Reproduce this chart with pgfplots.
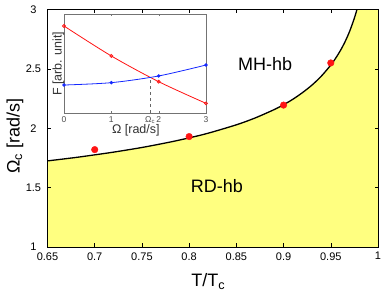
\documentclass[border=0pt]{standalone}
\usepackage{fontspec}
\setmainfont{Liberation Sans}
\usepackage{pgfplots}
\pgfplotsset{compat=1.18}
\usetikzlibrary{calc}
\definecolor{fillyel}{RGB}{255,255,128}
\definecolor{myred}{RGB}{255,20,20}
\definecolor{myblue}{RGB}{20,40,255}
\begin{document}
\begin{tikzpicture}
\begin{axis}[name=main, scale only axis, width=330.5pt, height=237.5pt,
  xmin=0.65, xmax=1, ymin=1, ymax=3,
  xtick={0.65,0.7,0.75,0.8,0.85,0.9,0.95,1},
  xticklabels={0.65,0.7,0.75,0.8,0.85,0.9,0.95,1},
  ytick={1,1.5,2,2.5,3},
  yticklabels={1,1.5,2,2.5,3},
  /pgf/number format/assume math mode=true,
  tick label style={font=\fontsize{11}{12}\selectfont, inner sep=1pt},
  xticklabel style={yshift=-4.2pt},
  yticklabel style={anchor=center, inner sep=0pt, xshift=-14.1pt},
  major tick length=3.5pt,
  tick style={black, line width=0.5pt},
  axis line style={line width=0.6pt},
  axis on top,
  xlabel={T/T\textsubscript{c}},
  ylabel={Ω\textsubscript{c} [rad/s]},
  label style={font=\fontsize{18}{20}\selectfont},
  xlabel style={at={(axis description cs:0.4866,-0.167)}, anchor=base, inner sep=0pt},
  ylabel style={at={(axis description cs:-0.0847,0.467)}, anchor=base, inner sep=0pt},
]
\addplot[draw=none, fill=fillyel] coordinates {
 (0.65,1) (0.65,1.725) (0.68,1.754) (0.70,1.776) (0.72,1.799) (0.75,1.838) (0.78,1.884)
 (0.80,1.919) (0.82,1.958) (0.85,2.029) (0.87,2.087) (0.89,2.157) (0.90,2.198)
 (0.91,2.245) (0.92,2.300) (0.93,2.363) (0.94,2.439) (0.95,2.532) (0.955,2.588)
 (0.96,2.652) (0.965,2.727) (0.97,2.817) (0.975,2.928) (0.978,3.009) (0.98,3.070)
 (1,3.07) (1,1)} -- cycle;
\addplot[black, line width=1.3pt, smooth] coordinates {
 (0.65,1.725) (0.68,1.754) (0.70,1.776) (0.72,1.799) (0.75,1.838) (0.78,1.884)
 (0.80,1.919) (0.82,1.958) (0.85,2.029) (0.87,2.087) (0.89,2.157) (0.90,2.198)
 (0.91,2.245) (0.92,2.300) (0.93,2.363) (0.94,2.439) (0.95,2.532) (0.955,2.588)
 (0.96,2.652) (0.965,2.727) (0.97,2.817) (0.975,2.928) (0.978,3.009) (0.98,3.070)};
\addplot[only marks, mark=*, mark size=3.3pt, color=myred, mark options={fill=myred, draw=myred}]
 coordinates {(0.7,1.82) (0.8,1.93) (0.9,2.195) (0.95,2.55)};
\node[font=\fontsize{18}{20}\selectfont] at (axis cs:0.8805,2.542) {MH-hb};
\node[font=\fontsize{18}{20}\selectfont] at (axis cs:0.8295,1.511) {RD-hb};
\end{axis}
\begin{axis}[at={($(main.south west)+(16.5pt,134pt)$)}, anchor=south west,
  scale only axis, width=142pt, height=98.5pt,
  xmin=0, xmax=3, ymin=0, ymax=1,
  xtick={0,1,2,3}, xticklabels={0,1,2,3},
  extra x ticks={1.82}, extra x tick labels={Ω\textsubscript{c}},
  extra x tick style={major tick length=0pt},
  ytick=\empty,
  axis background/.style={fill=white},
  axis line style={black!55, line width=0.6pt},
  tick style={black!55},
  major tick length=2pt,
  tick label style={font=\fontsize{8.5}{10}\selectfont, text=black!70},
  xlabel={Ω [rad/s]},
  ylabel={F [arb. unit]},
  label style={font=\fontsize{12.5}{14}\selectfont, text=black!80},
  xlabel style={at={(axis description cs:0.506,-0.213)}, anchor=base, inner sep=0pt},
  ylabel style={at={(axis description cs:-0.016,0.5)}, anchor=base, inner sep=0pt},
]
\addplot[dashed, black!60, line width=0.5pt] coordinates {(1.82,0) (1.82,0.358)};
\addplot[myred, line width=0.8pt, smooth, mark=o, mark size=1.5pt]
 coordinates {(0,0.883) (1,0.579) (2,0.318) (3,0.098)};
\addplot[myblue, line width=0.8pt, smooth, mark=*, mark size=1.3pt]
 coordinates {(0,0.284) (1,0.308) (2,0.376) (3,0.487)};
\end{axis}
\pgfresetboundingbox
\path ($(main.south west)+(-47.5pt,-47pt)$) rectangle ($(main.north east)+(4pt,9.5pt)$);
\end{tikzpicture}
\end{document}
